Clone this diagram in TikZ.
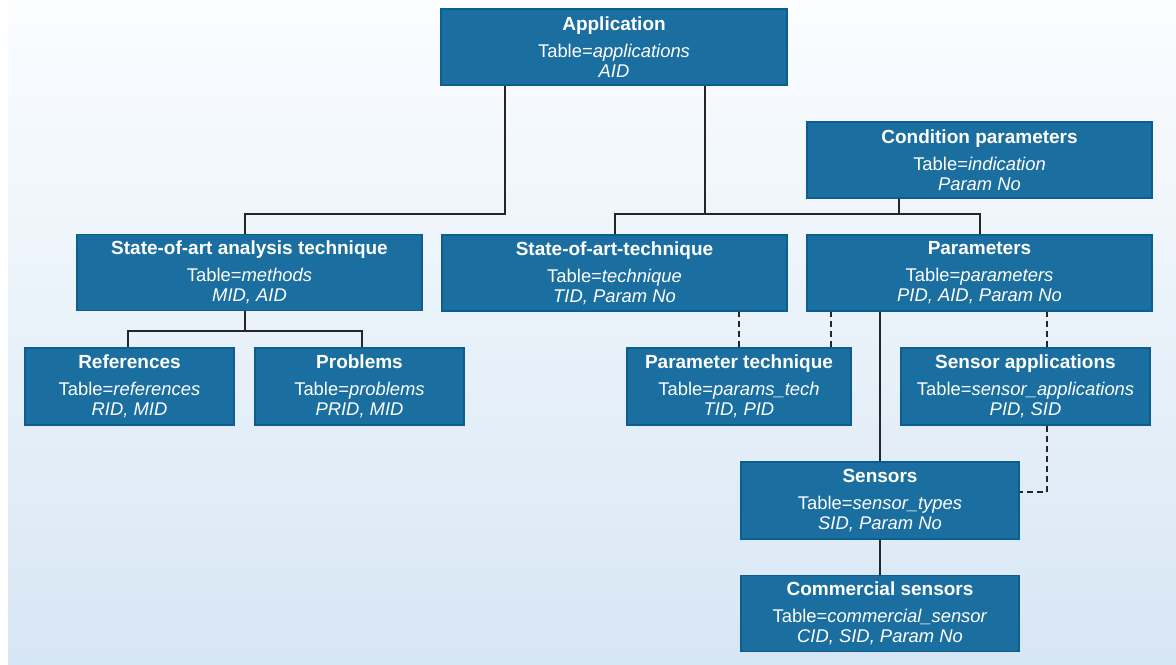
\documentclass[tikz,border=0pt]{standalone}
\usepackage{fontspec}
\setmainfont{Liberation Sans}
\usepackage{tikz}
\usetikzlibrary{positioning}

\definecolor{boxfill}{HTML}{1B6FA0}
\definecolor{boxedge}{HTML}{0D5E90}
\definecolor{bgtop}{HTML}{FBFDFF}
\definecolor{bgbot}{HTML}{D7E6F4}

\newcommand{\hd}[1]{{\bfseries\fontsize{9.5}{11}\selectfont #1}}

\begin{document}
\begin{tikzpicture}[x=0.5pt, y=-0.5pt, line width=1pt,
      tbl/.style={draw=boxedge, line width=0.8pt, fill=boxfill, text=white, inner sep=0pt,
                  minimum height=38pt, minimum width=172.5pt, align=center,
                  font=\fontsize{9.2}{10}\selectfont},
      link/.style={draw=black!85, line width=1pt},
      dlink/.style={draw=black!85, line width=1pt, dash pattern=on 3pt off 2pt}]

    % frame and background
    \useasboundingbox (0,0) rectangle (1176,664);
    \shade[top color=bgtop, bottom color=bgbot] (8,0) rectangle (1176,664);

    % top level
    \node[tbl, minimum width=173pt] (app) at (614, 47)
      {\hd{Application}\\[3.5pt] Table=\textit{applications}\\ \textit{AID}};
    \node[tbl] (cond) at (979.5, 160)
      {\hd{Condition parameters}\\[3.5pt] Table=\textit{indication}\\ \textit{Param No}};

    % second level
    \node[tbl] (sota) at (249.5, 272.5)
      {\hd{State-of-art analysis technique}\\[3.5pt] Table=\textit{methods}\\ \textit{MID, AID}};
    \node[tbl] (tech) at (614.5, 273)
      {\hd{State-of-art-technique}\\[3.5pt] Table=\textit{technique}\\ \textit{TID, Param No}};
    \node[tbl] (par) at (979.5, 273)
      {\hd{Parameters}\\[3.5pt] Table=\textit{parameters}\\ \textit{PID, AID, Param No}};

    % third level
    \node[tbl, minimum width=104.5pt, minimum height=38.5pt] (ref) at (129.5, 386.5)
      {\hd{References}\\[3.5pt] Table=\textit{references}\\ \textit{RID, MID}};
    \node[tbl, minimum width=104.5pt, minimum height=38.5pt] (prob) at (359.5, 386.5)
      {\hd{Problems}\\[3.5pt] Table=\textit{problems}\\ \textit{PRID, MID}};
    \node[tbl, minimum width=112pt, minimum height=38.5pt] (ptech) at (739, 386.5)
      {\hd{Parameter technique}\\[3.5pt] Table=\textit{params\_tech}\\ \textit{TID, PID}};
    \node[tbl, minimum width=124.5pt, minimum height=38.5pt] (sapp) at (1025.5, 386.5)
      {\hd{Sensor applications}\\[3.5pt] Table=\textit{sensor\_applications}\\ \textit{PID, SID}};

    % sensors
    \node[tbl, minimum width=139pt, minimum height=38.5pt] (sens) at (880, 500.5)
      {\hd{Sensors}\\[3.5pt] Table=\textit{sensor\_types}\\ \textit{SID, Param No}};
    \node[tbl, minimum width=139pt] (comm) at (880, 613.5)
      {\hd{Commercial sensors}\\[3.5pt] Table=\textit{commercial\_sensor}\\ \textit{CID, SID, Param No}};

    % application links
    \draw[link] ([xshift=-54.5pt]app.south) -- ++(0,128) -| ([xshift=-2.25pt]sota.north);
    \draw[link] ([xshift=45.5pt]app.south) -- ++(0,128) coordinate (bus);
    \draw[link] (tech.north) |- (par.north |- bus) -- (par.north);
    \draw[link] ([xshift=-40.25pt]cond.south) -- ([xshift=-40.25pt]cond.south |- bus);

    % analysis technique links
    \draw[link] ([xshift=-2.25pt]sota.south) -- ++(0,20) coordinate (sub);
    \draw[link] ([xshift=-0.75pt]ref.north) |- ([xshift=1.25pt]prob.north |- sub)
      -- ([xshift=1.25pt]prob.north);

    % parameter links
    \draw[dlink] (ptech.north) -- (ptech.north |- tech.south);
    \draw[dlink] ([xshift=46pt]ptech.north) -- ([xshift=46pt]ptech.north |- par.south);
    \draw[link] (sens.north) -- (sens.north |- par.south);
    \draw[dlink] ([xshift=10.75pt]sapp.north) -- ([xshift=10.75pt]sapp.north |- par.south);
    \draw[dlink] ([xshift=10.75pt]sapp.south) |- ([yshift=4.25pt]sens.east);
    \draw[link] (sens.south) -- (comm.north);

\end{tikzpicture}
\end{document}
